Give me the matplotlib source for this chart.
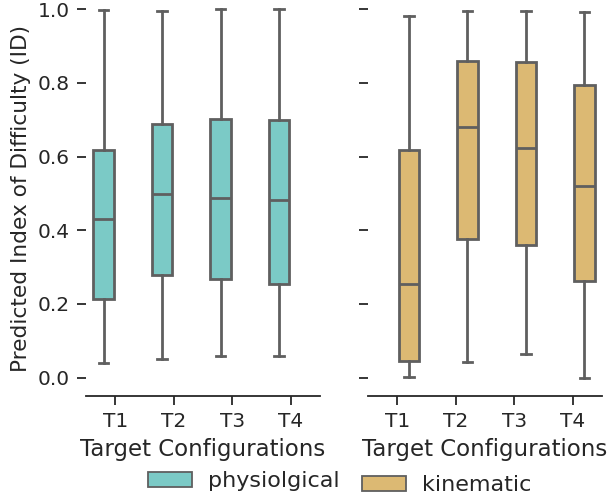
import matplotlib
matplotlib.use("Agg")
import matplotlib.pyplot as plt
from matplotlib.patches import Patch

categories = ["T1", "T2", "T3", "T4"]

# physiological stats
phys_whislo = [0.041, 0.050, 0.060, 0.058]
phys_q1     = [0.214, 0.280, 0.269, 0.254]
phys_med    = [0.431, 0.499, 0.487, 0.482]
phys_q3     = [0.619, 0.689, 0.701, 0.698]
phys_whishi = [0.998, 0.995, 1.000, 1.000]

# kinematic stats
kin_whislo = [0.001, 0.042, 0.063, 0.000]
kin_q1     = [0.045, 0.376, 0.359, 0.262]
kin_med    = [0.254, 0.679, 0.623, 0.521]
kin_q3     = [0.617, 0.859, 0.857, 0.793]
kin_whishi = [0.982, 0.994, 0.996, 0.993]

series_names = ["physiolgical", "kinematic"]
colors = ["#7bcac6", "#dcb973"]
edge = "#5f5f5f"
text_color = "#262626"
fs_tick = 14.5
fs_xlabel = 16.5
fs_ylabel = 15.6
fs_legend = 16

plt.rcParams["font.family"] = "DejaVu Sans"
plt.rcParams["text.color"] = text_color
plt.rcParams["axes.labelcolor"] = text_color
plt.rcParams["xtick.color"] = text_color
plt.rcParams["ytick.color"] = text_color

W, H = 610, 498
fig = plt.figure(figsize=(W / 100, H / 100), dpi=100)
bottom = (H - 396) / H
height = 1.0 - bottom
ax1 = fig.add_axes([86 / W, bottom, 234 / W, height])
ax2 = fig.add_axes([368 / W, bottom, 234 / W, height])

def make_stats(lo, q1, med, q3, hi):
    return [dict(whislo=a, q1=b, med=c, q3=d, whishi=e, fliers=[])
            for a, b, c, d, e in zip(lo, q1, med, q3, hi)]

datasets = [
    make_stats(phys_whislo, phys_q1, phys_med, phys_q3, phys_whishi),
    make_stats(kin_whislo, kin_q1, kin_med, kin_q3, kin_whishi),
]
offsets = [-0.2, 0.2]
lw = 2.0

for ax, stats, off, col in zip([ax1, ax2], datasets, offsets, colors):
    pos = [i + off for i in range(len(categories))]
    ax.bxp(stats, positions=pos, widths=0.355, capwidths=0.16,
           patch_artist=True, showfliers=False, manage_ticks=False,
           boxprops=dict(facecolor=col, edgecolor=edge, linewidth=lw),
           medianprops=dict(color=edge, linewidth=lw),
           whiskerprops=dict(color=edge, linewidth=lw),
           capprops=dict(color=edge, linewidth=lw))
    ax.set_xlim(-0.5, 3.5)
    ax.set_ylim(-0.0497, 1.025)
    ax.set_xticks(range(len(categories)))
    ax.set_xticklabels(categories)
    ax.set_yticks([0.0, 0.2, 0.4, 0.6, 0.8, 1.0])
    for s in ["top", "right", "left"]:
        ax.spines[s].set_visible(False)
    ax.spines["bottom"].set_linewidth(1.3)
    ax.spines["bottom"].set_color(text_color)
    ax.tick_params(axis="both", labelsize=fs_tick, length=6.5, width=1.3, pad=5)
    ax.set_xlabel("Target Configurations", fontsize=fs_xlabel, labelpad=4.8)
    ax.patch.set_visible(False)

ax1.set_ylabel("Predicted Index of Difficulty (ID)", fontsize=fs_ylabel, labelpad=5)
ax2.tick_params(axis="y", labelleft=False)

# two legend entries (slightly different vertical placement as in the reference)
leg_pos = [(148, 481), (362, 485)]
for name, col, (px, py) in zip(series_names, colors, leg_pos):
    h = Patch(facecolor=col, edgecolor=edge, linewidth=1.3)
    lg = fig.legend([h], [name], loc="center left",
                    bbox_to_anchor=(px / W, 1 - py / H),
                    frameon=False, fontsize=fs_legend, borderpad=0,
                    borderaxespad=0, handlelength=2.0, handleheight=0.65,
                    handletextpad=0.72)

fig.savefig("out.png", dpi=100)
